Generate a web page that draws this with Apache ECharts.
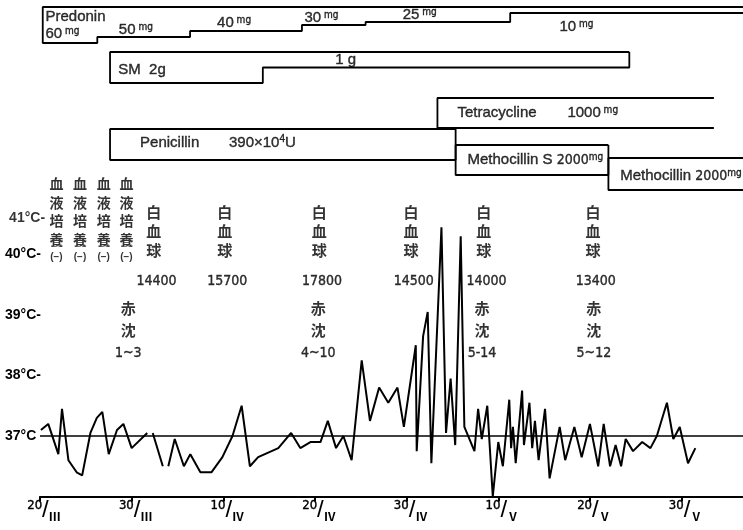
<!DOCTYPE html>
<html>
<head>
<meta charset="utf-8">
<script src="https://cdn.jsdelivr.net/npm/echarts@6/dist/echarts.min.js"></script>
<style>
  html, body { margin: 0; padding: 0; background: #fff; }
  #chart { width: 743px; height: 530px; }
</style>
</head>
<body>
<div id="chart"></div>
<script>
// x = position on the chart's 10-day scale, 0 = 20/III
var tickDays = ['20', '30', '10', '20', '30', '10', '20', '30'];
var tickMonths = ['Ⅲ', 'Ⅲ', 'Ⅳ', 'Ⅳ', 'Ⅳ', 'Ⅴ', 'Ⅴ', 'Ⅴ'];

// body temperature (°C), null = no reading
var tempDays = [0.1, 0.9, 2.0, 2.4, 3.1, 4.0, 4.6, 5.5, 6.2, 6.8, 7.5, 8.4, 9.1, 10.0, 11.7, 12.0, 12.3, 13.4, 13.7,
  14.0, 14.7, 15.7, 16.4, 17.5, 18.7, 19.9, 21.0, 22.0, 22.9, 23.8, 26.0, 27.4, 28.4, 29.5, 30.6, 31.4, 32.3, 33.1,
  34.0, 35.1, 36.0, 37.0, 38.0, 39.0, 39.7, 41.0, 41.1, 41.8, 42.3, 42.7, 43.8, 44.3, 44.8, 45.3, 45.9, 46.3, 47.4,
  47.8, 48.2, 48.8, 49.4, 50.0, 50.5, 51.2, 51.4, 51.6, 51.9, 52.6, 52.8, 53.4, 53.7, 54.0, 54.4, 55.1, 55.6, 56.7,
  57.3, 58.3, 59.1, 60.0, 60.9, 61.5, 62.2, 62.8, 63.4, 63.9, 64.7, 65.7, 66.6, 67.3, 68.4, 69.1, 69.8, 70.7, 71.5];
var tempValues = [37.1, 37.2, 36.7, 37.45, 36.6, 36.4, 36.35, 37.05, 37.3, 37.4, 36.7, 37.1, 37.2, 36.8, 37.05, null, 37.05, 36.5, null,
  36.5, 36.95, 36.5, 36.7, 36.4, 36.4, 36.65, 37.0, 37.5, 36.5, 36.65, 36.8, 37.05, 36.8, 36.9, 36.9, 37.25, 36.8, 37.0,
  36.6, 38.25, 37.25, 37.8, 37.55, 37.8, 37.15, 38.5, 36.75, 38.65, 39.05, 36.55, 40.45, 37.05, 37.95, 36.85, 40.3, 37.15, 36.75,
  37.45, 36.95, 37.5, 36.0, 36.9, 36.5, 37.6, 36.8, 37.15, 36.55, 37.75, 36.85, 37.55, 36.8, 37.25, 36.6, 37.45, 36.3, 37.15,
  36.6, 37.15, 36.65, 37.2, 36.5, 37.2, 36.5, 36.85, 36.5, 36.95, 36.75, 36.9, 36.8, 37.0, 37.55, 36.95, 37.15, 36.55, 36.8];

// drugs: days where the dose changes (last = end), doses
var predoninDays = [-0.3, 5.7, 15.9, 28.2, 35.2, 51.1, 76.7];
var predoninDoses = [60, 50, 40, 30, 25, 10];
var smDays = [7.1, 23.9, 64.2];
var smDoses = [2, 1];
var tetraDays = [43.1, 73.5];
var tetraDoses = [1000];
var penicillinDays = [7.1, 45.1];
var penicillinDoses = [390];
var methoSDays = [45.1, 61.9];
var methoSDoses = [2000];
var methoDays = [61.9, 76.7];
var methoDoses = [2000];

// lab tests
var cultureDays = [1.2, 3.8, 6.4, 8.9];
var wbcDays = [11.9, 19.7, 30.1, 40.2, 48.2, 60.2];
var wbcCounts = [14400, 15700, 17800, 14500, 14000, 13400];
var esrDays = [9.1, 30.0, 48.0, 60.3];
var esrRanges = ['1~3', '4~10', '5-14', '5~12'];

var XMAX = 76.7;
var INK = '#000';
var NARROW = "'DejaVu Sans Condensed', 'Liberation Sans', sans-serif";
var CJK = "'Noto Sans CJK JP', sans-serif";

// outline of a dosage box, drawn with step lines; top = row y, scale = px per unit
function outline(days, doses, top, scale, closed) {
  var n = doses.length, end = days[n];
  var pts = [[end, top], [days[0], top]];
  for (var i = 0; i < n; i++) pts.push([days[i], top + doses[i] * scale]);
  pts.push([end, top + doses[n - 1] * scale]);
  if (closed) pts.push([end, top]);
  return pts;
}

function boxSeries(data) {
  return {
    type: 'line', xAxisIndex: 1, yAxisIndex: 1, step: 'end', data: data,
    symbol: 'none', silent: true, animation: false,
    lineStyle: { color: INK, width: 1.8 }
  };
}

function mg(d) { return '{lat|' + d + '}{unit| mg}'; }

function lab(x, y, txt, align) {
  return { value: [x, y], txt: txt, label: { align: align || 'left' } };
}

var labels = [
  lab(-4.0, 218, '{ax|41°C-}'),
  lab(0.0, 17, '{lat|Predonin}'),
  lab(0.0, 34, mg(predoninDoses[0])),
  lab(8.07, 30, mg(predoninDoses[1])),
  lab(18.87, 23, mg(predoninDoses[2])),
  lab(28.47, 18, mg(predoninDoses[3])),
  lab(39.28, 15, mg(predoninDoses[4])),
  lab(56.51, 27, mg(predoninDoses[5])),
  lab(8.0, 70, '{lat|SM  ' + smDoses[0] + 'g}'),
  lab(31.86, 60, '{lat|' + smDoses[1] + ' g}'),
  lab(45.3, 113, '{lat|Tetracycline}'),
  lab(57.39, 113, mg(tetraDoses[0])),
  lab(10.4, 143, '{lat|Penicillin}'),
  lab(20.18, 143, '{lat|' + penicillinDoses[0] + '×10}{sup|4}{lat|U}'),
  lab(46.4, 160, '{lat|Methocillin S }{nar|' + methoSDoses[0] + '}{unit|mg}'),
  lab(63.2, 176, '{lat|Methocillin }{nar|' + methoDoses[0] + '}{unit|mg}')
];
cultureDays.forEach(function (d) {
  labels.push(lab(d, 220, '{kan|血}\n{kan|液}\n{kan|培}\n{kan|養}\n{neg|(−)}', 'center'));
});
wbcDays.forEach(function (d, i) {
  labels.push(lab(d, 231, '{kw|白}\n{kw|血}\n{kw|球}', 'center'));
  labels.push(lab(d + 0.3, 281, '{nar|' + wbcCounts[i] + '}', 'center'));
});
esrDays.forEach(function (d, i) {
  labels.push(lab(d, 331, '{ke|赤}\n{ke|沈}\n{er|' + esrRanges[i] + '}', 'center'));
});

// thin outline in the ink colour makes the type as heavy as the print
var heavy = { color: INK, textBorderColor: INK, textBorderWidth: 0.4 };
function st(o) { return Object.assign({}, heavy, o); }

var rich = {
  ax: { fontFamily: 'Liberation Sans', fontWeight: 'bold', fontSize: 14, color: INK },
  lat: st({ fontFamily: 'Liberation Sans', fontSize: 15 }),
  nar: st({ fontFamily: NARROW, fontSize: 14 }),
  unit: st({ fontFamily: NARROW, fontSize: 10, padding: [0, 0, 5, 0] }),
  sup: st({ fontFamily: 'Liberation Sans', fontSize: 10, padding: [0, 0, 7, 0] }),
  kan: { fontFamily: CJK, fontWeight: 'bold', fontSize: 14, lineHeight: 18.5, color: INK },
  neg: { fontFamily: 'Liberation Sans', fontWeight: 'bold', fontSize: 10, lineHeight: 17, color: INK },
  kw: { fontFamily: CJK, fontWeight: 'bold', fontSize: 15, lineHeight: 19, color: INK },
  ke: { fontFamily: CJK, fontWeight: 'bold', fontSize: 15, lineHeight: 22, color: INK },
  er: st({ fontFamily: NARROW, fontSize: 14, lineHeight: 24 })
};

var tempData = tempDays.map(function (d, i) { return [d, tempValues[i]]; });

var chart = echarts.init(document.getElementById('chart'));
chart.setOption({
  animation: false,
  backgroundColor: '#fff',
  grid: [
    { left: 40, right: 0, top: 194, bottom: 33.5 },
    { left: 40 - 5 * 703 / XMAX, right: 0, top: 0, bottom: 0 }
  ],
  xAxis: [
    {
      type: 'value', gridIndex: 0, min: 0, max: XMAX, interval: 10,
      axisLine: { lineStyle: { color: INK, width: 2 } },
      axisTick: { length: 5, lineStyle: { color: INK, width: 2 } },
      splitLine: { show: false },
      axisLabel: {
        margin: 2,
        formatter: function (v) {
          var i = Math.round(v / 10);
          return '{dd|' + tickDays[i] + '}{sl|/}{mo|' + tickMonths[i] + '}';
        },
        rich: {
          dd: st({ fontFamily: NARROW, fontSize: 13, padding: [0, 0, 10, 8] }),
          sl: { fontFamily: 'Liberation Sans', fontSize: 24, color: INK },
          mo: { fontFamily: CJK, fontWeight: 'bold', fontSize: 12, color: INK, padding: [12, 0, 0, 0] }
        }
      }
    },
    { type: 'value', gridIndex: 1, min: -5, max: XMAX, show: false }
  ],
  yAxis: [
    {
      type: 'value', gridIndex: 0, min: 36, max: 41, interval: 1,
      axisLine: { show: false }, axisTick: { show: false }, splitLine: { show: false },
      axisLabel: {
        align: 'left', margin: 35,
        formatter: function (v) {
          if (v === 37) return '{ax|37°C}';
          if (v >= 38 && v <= 40) return '{ax|' + v + '°C-}';
          return '';
        },
        rich: rich
      }
    },
    { type: 'value', gridIndex: 1, min: 0, max: 530, inverse: true, show: false }
  ],
  series: [
    {
      type: 'line', xAxisIndex: 0, yAxisIndex: 0, data: tempData,
      symbol: 'none', connectNulls: false, silent: true,
      lineStyle: { color: INK, width: 2 },
      markLine: {
        silent: true, symbol: ['none', 'none'], label: { show: false },
        lineStyle: { color: INK, width: 1.5, type: 'solid' },
        data: [{ yAxis: 37 }]
      }
    },
    boxSeries(outline(predoninDays, predoninDoses, 7, 0.6, false)),
    boxSeries(outline(smDays, smDoses, 52, 15.5, true)),
    boxSeries(outline(tetraDays, tetraDoses, 98, 0.03, false)),
    boxSeries(outline(penicillinDays, penicillinDoses, 129, 31 / 390, true)),
    boxSeries(outline(methoSDays, methoSDoses, 145, 0.015, true)),
    boxSeries(outline(methoDays, methoDoses, 158, 0.016, false)),
    {
      type: 'scatter', xAxisIndex: 1, yAxisIndex: 1, data: labels,
      symbolSize: 0, silent: true, clip: false,
      label: {
        show: true, position: 'inside', verticalAlign: 'middle',
        formatter: function (p) { return p.data.txt; },
        rich: rich
      }
    }
  ]
});
</script>
</body>
</html>
